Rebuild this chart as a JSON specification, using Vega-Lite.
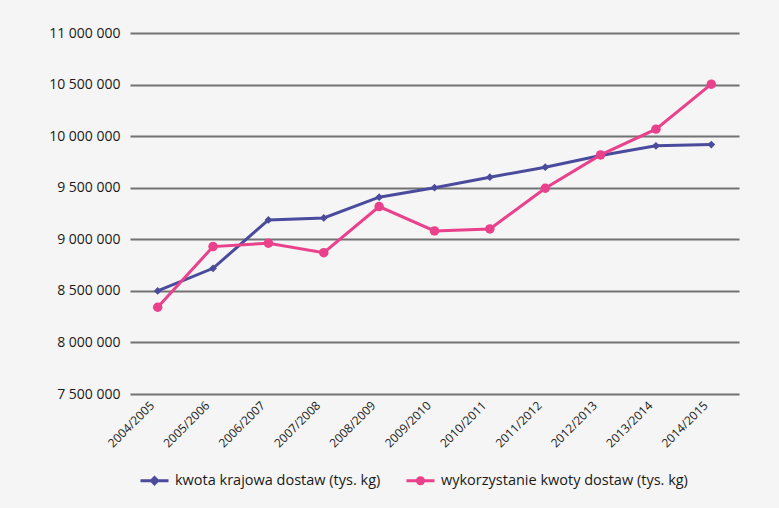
{
  "$schema": "https://vega.github.io/schema/vega-lite/v6.json",
  "width": 609,
  "height": 361,
  "autosize": {"type": "none"},
  "padding": {"left": 130, "top": 33, "right": 40, "bottom": 114},
  "background": "#f5f5f5",
  "config": {
    "view": {"stroke": null},
    "font": "Open Sans",
    "locale": {"number": {"decimal": ",", "thousands": " ", "grouping": [3], "currency": ["", ""]}}
  },
  "data": {
    "values": [
      {"sezon": "2004/2005", "seria": "kwota krajowa dostaw (tys. kg)", "wartosc": 8499000},
      {"sezon": "2005/2006", "seria": "kwota krajowa dostaw (tys. kg)", "wartosc": 8719000},
      {"sezon": "2006/2007", "seria": "kwota krajowa dostaw (tys. kg)", "wartosc": 9188000},
      {"sezon": "2007/2008", "seria": "kwota krajowa dostaw (tys. kg)", "wartosc": 9207000},
      {"sezon": "2008/2009", "seria": "kwota krajowa dostaw (tys. kg)", "wartosc": 9408000},
      {"sezon": "2009/2010", "seria": "kwota krajowa dostaw (tys. kg)", "wartosc": 9500000},
      {"sezon": "2010/2011", "seria": "kwota krajowa dostaw (tys. kg)", "wartosc": 9602000},
      {"sezon": "2011/2012", "seria": "kwota krajowa dostaw (tys. kg)", "wartosc": 9699000},
      {"sezon": "2012/2013", "seria": "kwota krajowa dostaw (tys. kg)", "wartosc": 9812000},
      {"sezon": "2013/2014", "seria": "kwota krajowa dostaw (tys. kg)", "wartosc": 9906000},
      {"sezon": "2014/2015", "seria": "kwota krajowa dostaw (tys. kg)", "wartosc": 9918000},
      {"sezon": "2004/2005", "seria": "wykorzystanie kwoty dostaw (tys. kg)", "wartosc": 8341000},
      {"sezon": "2005/2006", "seria": "wykorzystanie kwoty dostaw (tys. kg)", "wartosc": 8929000},
      {"sezon": "2006/2007", "seria": "wykorzystanie kwoty dostaw (tys. kg)", "wartosc": 8962000},
      {"sezon": "2007/2008", "seria": "wykorzystanie kwoty dostaw (tys. kg)", "wartosc": 8870000},
      {"sezon": "2008/2009", "seria": "wykorzystanie kwoty dostaw (tys. kg)", "wartosc": 9317000},
      {"sezon": "2009/2010", "seria": "wykorzystanie kwoty dostaw (tys. kg)", "wartosc": 9081000},
      {"sezon": "2010/2011", "seria": "wykorzystanie kwoty dostaw (tys. kg)", "wartosc": 9100000},
      {"sezon": "2011/2012", "seria": "wykorzystanie kwoty dostaw (tys. kg)", "wartosc": 9495000},
      {"sezon": "2012/2013", "seria": "wykorzystanie kwoty dostaw (tys. kg)", "wartosc": 9818000},
      {"sezon": "2013/2014", "seria": "wykorzystanie kwoty dostaw (tys. kg)", "wartosc": 10068000},
      {"sezon": "2014/2015", "seria": "wykorzystanie kwoty dostaw (tys. kg)", "wartosc": 10504000}
    ]
  },
  "encoding": {
    "x": {
      "field": "sezon",
      "type": "ordinal",
      "scale": {"type": "point", "padding": 0.5},
      "axis": {
        "title": null,
        "domain": false,
        "ticks": false,
        "labelAngle": 315,
        "labelAlign": "right",
        "labelBaseline": "middle",
        "labelPadding": 9,
        "labelOffset": -6,
        "labelFontSize": 12,
        "labelColor": "#1a1a1a",
        "labelFont": "Open Sans"
      }
    },
    "y": {
      "field": "wartosc",
      "type": "quantitative",
      "scale": {"domain": [7500000, 11000000], "nice": false, "zero": false},
      "axis": {
        "title": null,
        "domain": false,
        "ticks": false,
        "values": [7500000, 8000000, 8500000, 9000000, 9500000, 10000000, 10500000, 11000000],
        "format": ",d",
        "grid": true,
        "gridColor": "#727272",
        "gridWidth": 2,
        "gridOpacity": 1,
        "labelPadding": 10,
        "labelFontSize": 14,
        "labelColor": "#1a1a1a",
        "labelFont": "Open Sans"
      }
    },
    "color": {
      "field": "seria",
      "type": "nominal",
      "scale": {
        "domain": ["kwota krajowa dostaw (tys. kg)", "wykorzystanie kwoty dostaw (tys. kg)"],
        "range": ["#4a4b9c", "#e9418b"]
      },
      "legend": {
        "title": null,
        "orient": "none",
        "direction": "horizontal",
        "legendX": 9,
        "legendY": 432,
        "symbolSize": 784,
        "symbolStrokeWidth": 3,
        "labelOffset": 5,
        "labelLimit": 0,
        "columnPadding": 19,
        "labelFontSize": 14.5,
        "labelColor": "#1a1a1a",
        "labelFont": "Open Sans",
        "encode": {
          "symbols": {
            "update": {
              "shape": {"signal": "datum.value == 'kwota krajowa dostaw (tys. kg)' ? 'M-1,0H1M0,-0.22L0.22,0L0,0.22L-0.22,0Z' : 'M-1,0H1M-0.22,0A0.22,0.22 0 1,0 0.22,0A0.22,0.22 0 1,0 -0.22,0Z'"},
              "fill": {"signal": "datum.value == 'kwota krajowa dostaw (tys. kg)' ? '#4a4b9c' : '#e9418b'"},
              "stroke": {"signal": "datum.value == 'kwota krajowa dostaw (tys. kg)' ? '#4a4b9c' : '#e9418b'"},
              "strokeWidth": {"value": 3},
              "opacity": {"value": 1}
            }
          }
        }
      }
    }
  },
  "layer": [
    {
      "mark": {"type": "line", "strokeWidth": 3}
    },
    {
      "mark": {"type": "point", "filled": true, "opacity": 1},
      "encoding": {
        "shape": {
          "field": "seria",
          "type": "nominal",
          "scale": {"range": ["diamond", "circle"]},
          "legend": null
        },
        "size": {
          "field": "seria",
          "type": "nominal",
          "scale": {"range": [60, 90]},
          "legend": null
        }
      }
    }
  ]
}
